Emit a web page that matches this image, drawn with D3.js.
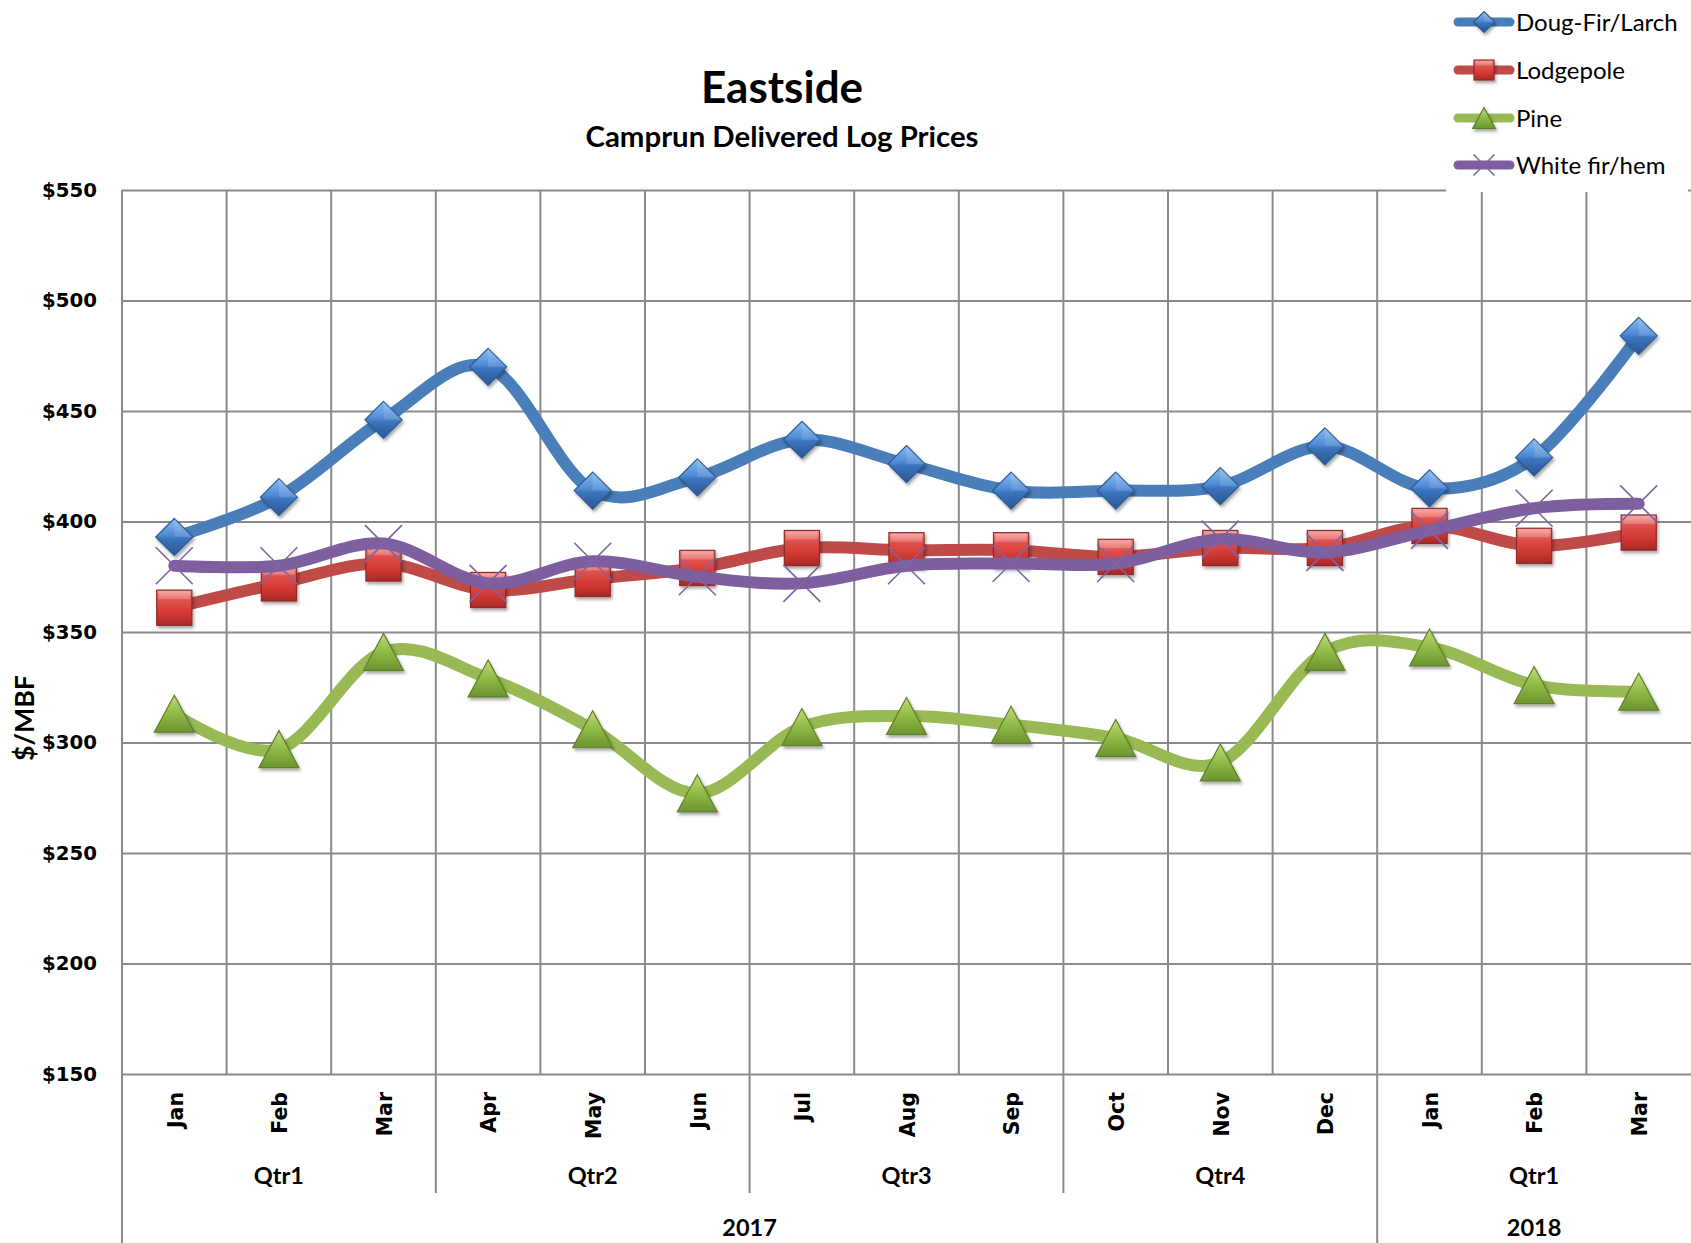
<!DOCTYPE html>
<html><head><meta charset="utf-8">
<script src="https://cdn.jsdelivr.net/npm/d3@7"></script>
<style>
html,body{margin:0;padding:0;background:#fff;}
svg{display:block;}
</style></head>
<body>
<script>
// ---------- data ----------
const months = ["Jan","Feb","Mar","Apr","May","Jun","Jul","Aug","Sep","Oct","Nov","Dec","Jan","Feb","Mar"];
const quarterLabels = ["Qtr1","Qtr2","Qtr3","Qtr4","Qtr1"];
const monthsPerQuarter = 3;
const yearLabels = ["2017","2018"];
const monthsPerYear = [12, 3];
const yTicks = [150,200,250,300,350,400,450,500,550];
const seriesNames = ["Doug-Fir/Larch","Lodgepole","Pine","White fir/hem"];
const dougFir   = [393,411,446,470,414,420,437,426,414,414,416,434,415,429,484];
const lodgepole = [361,372,381,369,374,379,388,387,387,384,388,388,398,389,395];
const pine      = [313,297,341,329,306,277,307,312,308,302,291,341,343,326,323];
const whiteFir  = [380,380,390,372,382,375,372,380,381,381,392,386,396,406,408];

// ---------- layout ----------
const W = 1691, H = 1243;
const pL = 122, pR = 1691, pT = 190, pB = 1074;
const gridColor = "#8a8a8a";

const svg = d3.select("body").append("svg").attr("width", W).attr("height", H);
const defs = svg.append("defs");

function lin(id, stops){
  const g = defs.append("linearGradient").attr("id", id).attr("x1",0).attr("y1",0).attr("x2",0).attr("y2",1);
  stops.forEach(s => g.append("stop").attr("offset", s[0]).attr("stop-color", s[1]));
}
lin("gBlue", [[0,"#8cbcf0"],[0.45,"#4f8bd6"],[0.55,"#3c74bd"],[1,"#2a5793"]]);
lin("gRed", [[0,"#f59b97"],[0.3,"#e0504b"],[0.7,"#cf3631"],[1,"#a62a27"]]);
lin("gGreen", [[0,"#c2dc7c"],[0.5,"#8fba45"],[1,"#6c9430"]]);
const f = defs.append("filter").attr("id","shadow").attr("x","-30%").attr("y","-30%").attr("width","170%").attr("height","170%");
f.append("feDropShadow").attr("dx",1.5).attr("dy",2.5).attr("stdDeviation",1.8).attr("flood-color","#000").attr("flood-opacity",0.35);

const x = d3.scaleBand().domain(d3.range(months.length)).range([pL, pR]).padding(0);
const bw = x.bandwidth();
const cx = i => x(i) + bw/2;
const y = d3.scaleLinear().domain([150,550]).range([pB, pT]);

// ---------- grid ----------
const grid = svg.append("g");
grid.append("g").attr("transform", `translate(${pL},0)`)
  .call(d3.axisLeft(y).tickValues(yTicks).tickSize(-(pR-pL)).tickFormat(""))
  .call(g => g.select(".domain").remove())
  .call(g => g.selectAll("line").attr("stroke", gridColor).attr("stroke-width", 2));
grid.selectAll("line.v").data(d3.range(1, months.length)).enter().append("line")
  .attr("x1", k => pL + k*bw).attr("x2", k => pL + k*bw)
  .attr("y1", pT).attr("y2", pB)
  .attr("stroke", gridColor).attr("stroke-width", 2);
grid.append("line").attr("x1", pL).attr("x2", pL).attr("y1", pT).attr("y2", H)
  .attr("stroke", gridColor).attr("stroke-width", 2);
const qBounds = d3.range(1, quarterLabels.length).map(q => q*monthsPerQuarter);
const yBounds = Array.from(d3.cumsum(monthsPerYear)).slice(0, -1);
grid.selectAll("line.q").data(qBounds.filter(k => !yBounds.includes(k))).enter().append("line")
  .attr("x1", k => pL + k*bw).attr("x2", k => pL + k*bw)
  .attr("y1", pB).attr("y2", 1193)
  .attr("stroke", gridColor).attr("stroke-width", 2);
grid.selectAll("line.yr").data(yBounds).enter().append("line")
  .attr("x1", k => pL + k*bw).attr("x2", k => pL + k*bw)
  .attr("y1", pB).attr("y2", H)
  .attr("stroke", gridColor).attr("stroke-width", 2);

// ---------- y axis labels ----------
svg.append("g").attr("transform", `translate(${pL},0)`)
  .call(d3.axisLeft(y).tickValues(yTicks).tickSize(0).tickPadding(25).tickFormat(d => "$" + d))
  .call(g => g.select(".domain").remove())
  .call(g => g.selectAll("text").attr("font-family","DejaVu Sans").attr("font-weight","bold")
      .attr("font-size","19.8px").attr("fill","#000"));

svg.append("text").attr("transform","translate(25,718) rotate(-90)")
  .attr("text-anchor","middle").attr("dy","0.36em")
  .attr("font-family","Lato").attr("font-weight","bold").attr("font-size","26px")
  .attr("textLength", 86).attr("lengthAdjust","spacingAndGlyphs")
  .text("$/MBF");

// ---------- x axis labels ----------
svg.append("g").selectAll("text").data(months).enter().append("text")
  .attr("transform", (d,i) => `translate(${cx(i)+1},1092) rotate(-90)`)
  .attr("text-anchor","end").attr("dy","0.36em")
  .attr("font-family","DejaVu Sans").attr("font-weight","bold").attr("font-size","20.5px")
  .text(d => d);
svg.append("g").selectAll("text").data(quarterLabels).enter().append("text")
  .attr("x", (d,i) => pL + (i*monthsPerQuarter + monthsPerQuarter/2)*bw)
  .attr("y", 1184).attr("text-anchor","middle")
  .attr("font-family","Lato").attr("font-weight","bold").attr("font-size","23.5px")
  .text(d => d);
const yStarts = [0, ...Array.from(d3.cumsum(monthsPerYear))];
svg.append("g").selectAll("text").data(yearLabels).enter().append("text")
  .attr("x", (d,i) => pL + (yStarts[i] + monthsPerYear[i]/2)*bw)
  .attr("y", 1236).attr("text-anchor","middle")
  .attr("font-family","Lato").attr("font-weight","bold").attr("font-size","23.5px")
  .text(d => d);

// ---------- titles ----------
svg.append("text").attr("x", 782).attr("y", 103).attr("text-anchor","middle")
  .attr("font-family","Lato").attr("font-weight","bold").attr("font-size","44px").text("Eastside");
svg.append("text").attr("x", 782).attr("y", 147).attr("text-anchor","middle")
  .attr("font-family","Lato").attr("font-weight","bold").attr("font-size","28px")
  .attr("textLength", 393).attr("lengthAdjust","spacingAndGlyphs")
  .text("Camprun Delivered Log Prices");

// ---------- markers ----------
function drawMarker(g, type, s){
  if (type === "diamond") {
    g.append("path").attr("d", `M0,${-s/2}L${s/2},0L0,${s/2}L${-s/2},0Z`)
      .attr("fill","url(#gBlue)").attr("stroke","#2d5a90").attr("stroke-width",1.2).attr("filter","url(#shadow)");
    g.append("path").attr("d", `M0,${-s/2}L${s/2},0L0,0Z`).attr("fill","#fff").attr("opacity",0.12);
  } else if (type === "square") {
    const h = s*0.95/2;
    g.append("rect").attr("x",-h).attr("y",-h).attr("width",2*h).attr("height",2*h)
      .attr("fill","url(#gRed)").attr("stroke","#8e2a28").attr("stroke-width",1.2).attr("filter","url(#shadow)");
    g.append("rect").attr("x",-h+2).attr("y",-h+1).attr("width",2*h-4).attr("height",h*0.45)
      .attr("fill","#fff").attr("opacity",0.18);
  } else if (type === "triangle") {
    const w = s*1.08/2, hh = s/2;
    g.append("path").attr("d", `M0,${-hh}L${w},${hh}L${-w},${hh}Z`)
      .attr("fill","url(#gGreen)").attr("stroke","#5f7f2a").attr("stroke-width",1.2).attr("filter","url(#shadow)");
  } else if (type === "x") {
    const h = s/2;
    g.append("path").attr("d", `M${-h},${-h}L${h},${h}M${h},${-h}L${-h},${h}`)
      .attr("stroke","#8064a2").attr("stroke-width",1.6).attr("fill","none");
  }
}

const series = [
  {name: seriesNames[0], values: dougFir,   color: "#4a7ebb", marker: "diamond"},
  {name: seriesNames[1], values: lodgepole, color: "#be4b48", marker: "square"},
  {name: seriesNames[2], values: pine,      color: "#98b954", marker: "triangle"},
  {name: seriesNames[3], values: whiteFir,  color: "#7d5fa0", marker: "x"}
];

const line = d3.line().x((d,i) => cx(i)).y(d => y(d)).curve(d3.curveCardinal.tension(0));
series.forEach(s => {
  const g = svg.append("g");
  g.append("path").attr("d", line(s.values)).attr("fill","none").attr("stroke", s.color)
    .attr("stroke-width", 12).attr("stroke-linecap","round").attr("stroke-linejoin","round");
  s.values.forEach((v,i) => {
    const mg = g.append("g").attr("transform", `translate(${cx(i)},${y(v)})`);
    drawMarker(mg, s.marker, 37);
  });
});

// ---------- legend ----------
const lg = svg.append("g");
lg.append("rect").attr("x",1446).attr("y",0).attr("width",242).attr("height",192).attr("fill","#fff");
const legendY = [22, 70, 118, 165];
series.forEach((s,i) => {
  const g = lg.append("g").attr("transform", `translate(0,${legendY[i]})`);
  g.append("line").attr("x1",1458).attr("x2",1510).attr("y1",0).attr("y2",0)
    .attr("stroke", s.color).attr("stroke-width",9).attr("stroke-linecap","round");
  const mg = g.append("g").attr("transform","translate(1484,0)");
  drawMarker(mg, s.marker, 21);
  g.append("text").attr("x",1516).attr("y",8.5).attr("font-family","Lato").attr("font-size","24px").text(s.name);
});
</script>
</body></html>
